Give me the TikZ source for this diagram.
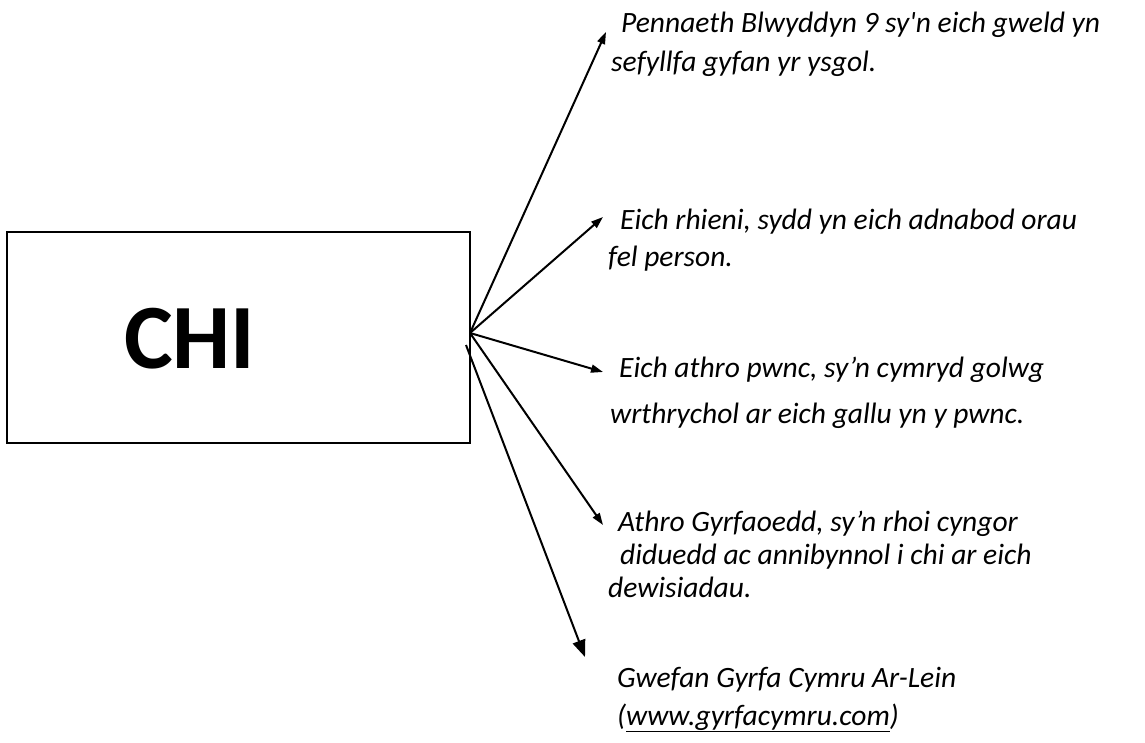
\documentclass[tikz,border=0pt]{standalone}
\usepackage{fontspec}
\setmainfont{Carlito}[
  UprightFont=Carlito,
  BoldFont=Carlito Bold,
  ItalicFont=Carlito Italic,
  BoldItalicFont=Carlito Bold Italic]
\usetikzlibrary{arrows.meta}

\begin{document}
\begin{tikzpicture}[
			x=1pt, y=-1pt,
			% Define styles for nodes and arrows
			box/.style={draw, line width=2pt, rectangle, minimum width=463pt, minimum height=211pt, inner sep=0pt},
			note/.style={anchor=base west, align=left, inner sep=0pt, font=\fontsize{29.5}{33}\selectfont\itshape},
			link/.style={line width=2pt, -{Triangle[length=12pt, width=8pt]}},
			biglink/.style={line width=2pt, -{Triangle[length=17pt, width=13pt]}}
		]
		\useasboundingbox (0,0) rectangle (1145,743);

		% Main box
		\node[box] (chi) at (238.5,337.5) {};
		\node[anchor=base west, inner sep=0pt, font=\fontsize{92}{100}\selectfont\bfseries] (chilabel) at (124,368) {CHI};

		% Start and end points of the arrows
		\coordinate (hub) at (470,333);
		\coordinate (hublow) at (466,345);
		\coordinate (tipa) at (606,32);
		\coordinate (tipb) at (603,217);
		\coordinate (tipc) at (603,372);
		\coordinate (tipd) at (603,525);
		\coordinate (tipe) at (585,657);

		% Texts (placed at the baseline of their last line)
		\node[note] (head) at (611,72) {\hspace{10pt}Pennaeth Blwyddyn 9 sy\textquotesingle n eich gweld yn\\[6pt]sefyllfa gyfan yr ysgol.};
		\node[note] (parents) at (608,266) {\hspace{12pt}Eich rhieni, sydd yn eich adnabod orau\\[3pt]fel person.};
		\node[note] (subject) at (610,423) {\hspace{9pt}Eich athro pwnc, sy’n cymryd golwg\\[13pt]wrthrychol ar eich gallu yn y pwnc.};
		\node[note] (careers) at (608,597) {\hspace{10pt}Athro Gyrfaoedd, sy’n rhoi cyngor\\\hspace{12pt}diduedd ac annibynnol i chi ar eich\\dewisiadau.};
		\node[note] (website) at (617,725) {Gwefan Gyrfa Cymru Ar-Lein\\[5pt](\underline{www.gyrfacymru.com})};

		% Arrows
		\draw[link] (hub) -- (tipa);
		\draw[link] (hub) -- (tipb);
		\draw[link] (hub) -- (tipc);
		\draw[link] (hub) -- (tipd);
		\draw[biglink] (hublow) -- (tipe);
	\end{tikzpicture}
\end{document}
